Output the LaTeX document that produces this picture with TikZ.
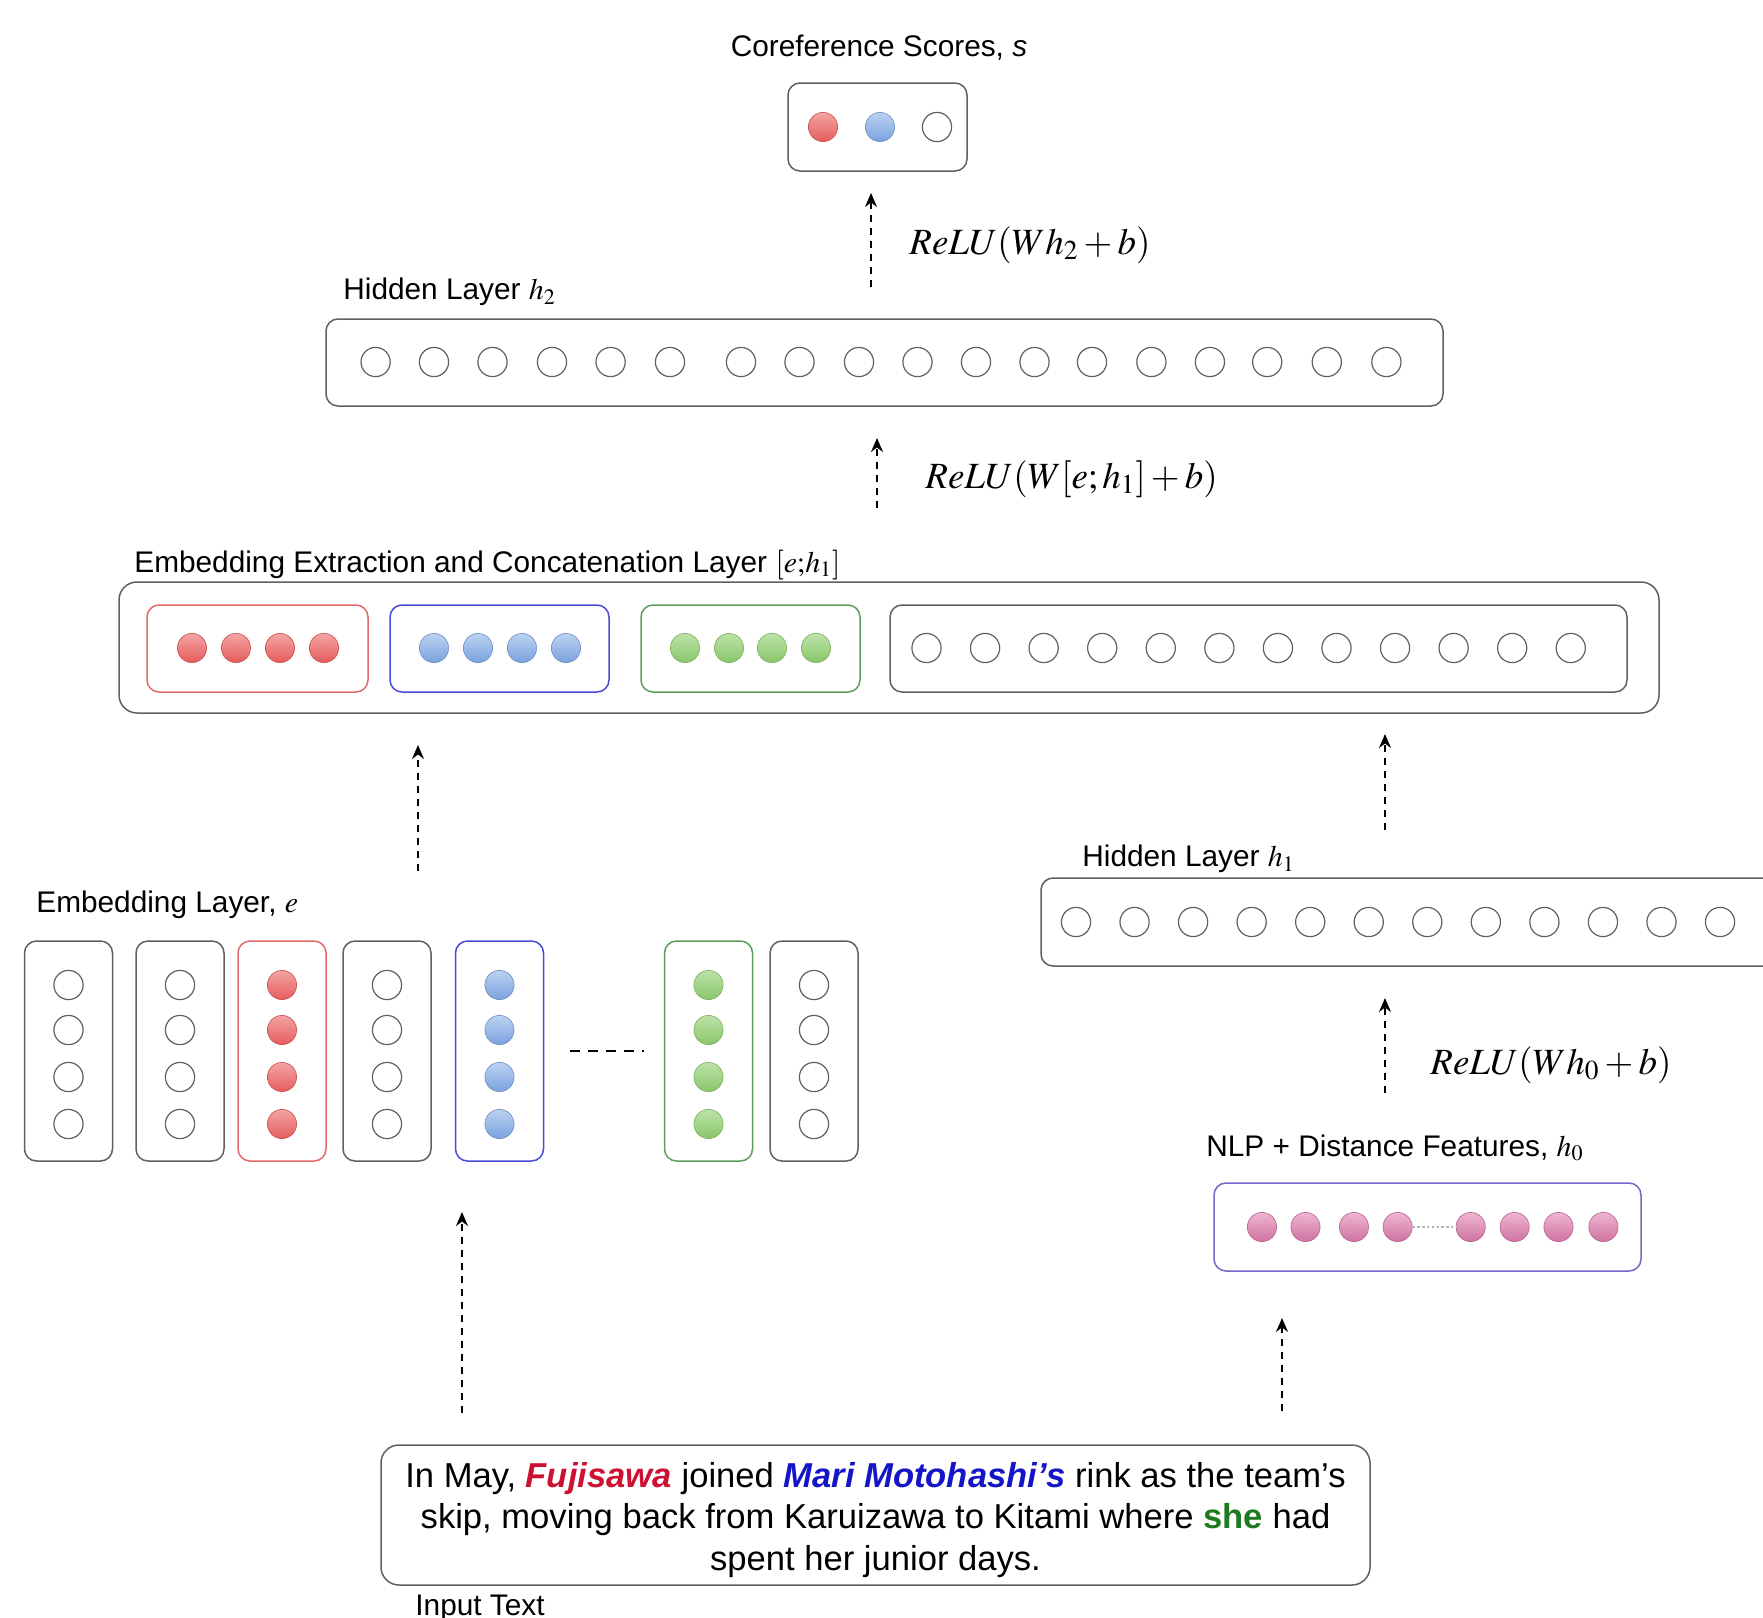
\documentclass[tikz,border=0pt]{standalone}
\usepackage{mathptmx}
\usepackage[no-math]{fontspec}
\setmainfont{Liberation Sans}
\usetikzlibrary{arrows.meta}
\definecolor{boxgray}{HTML}{606060}
\definecolor{unitgray}{HTML}{606060}
\definecolor{redtop}{HTML}{F4A4A4}
\definecolor{redbot}{HTML}{E65C5C}
\definecolor{reddraw}{HTML}{C85050}
\definecolor{bluetop}{HTML}{BCD2F2}
\definecolor{bluebot}{HTML}{7AA2DE}
\definecolor{bluedraw}{HTML}{6C8EBF}
\definecolor{greentop}{HTML}{BDE3A8}
\definecolor{greenbot}{HTML}{88C66A}
\definecolor{greendraw}{HTML}{7AAE5E}
\definecolor{pinktop}{HTML}{EEB6D0}
\definecolor{pinkbot}{HTML}{CF72A0}
\definecolor{pinkdraw}{HTML}{B86090}
\definecolor{redbox}{HTML}{E06A6A}
\definecolor{bluebox}{HTML}{4A4AD8}
\definecolor{greenbox}{HTML}{5A9E5A}
\definecolor{purplebox}{HTML}{7466C4}
\definecolor{txtred}{HTML}{CC1133}
\definecolor{txtblue}{HTML}{1515C8}
\definecolor{txtgreen}{HTML}{1F7A1F}
\tikzset{
  layerbox/.style={draw=boxgray, line width=0.75pt, rounded corners=6pt, inner sep=0pt},
  bigbox/.style={draw=boxgray, line width=0.75pt, rounded corners=9pt, inner sep=0pt},
  unit/.style={circle, draw=unitgray, line width=0.6pt, minimum size=14.6pt, inner sep=0pt},
  redunit/.style={circle, draw=reddraw, line width=0.3pt, minimum size=14.6pt, inner sep=0pt, top color=redtop, bottom color=redbot},
  blueunit/.style={circle, draw=bluedraw, line width=0.3pt, minimum size=14.6pt, inner sep=0pt, top color=bluetop, bottom color=bluebot},
  greenunit/.style={circle, draw=greendraw, line width=0.3pt, minimum size=14.6pt, inner sep=0pt, top color=greentop, bottom color=greenbot},
  pinkunit/.style={circle, draw=pinkdraw, line width=0.3pt, minimum size=14.6pt, inner sep=0pt, top color=pinktop, bottom color=pinkbot},
  flow/.style={-{Stealth[length=7pt,width=6pt]}, dash pattern=on 3.5pt off 3pt, line width=0.9pt},
  lbl/.style={font=\fontsize{14.9}{17}\selectfont, inner sep=0pt, anchor=west},
  fml/.style={font=\fontsize{18.5}{21}\selectfont, inner sep=0pt, anchor=west},
}
\begin{document}
\begin{tikzpicture}[x=0.5pt,y=-0.5pt]
\path[use as bounding box, clip] (0,0) rectangle (1763,1618);

% ---------- Coreference scores ----------
\node[lbl, anchor=center] (tscore) at (879,48) {Coreference Scores, \textit{s}};
\node[layerbox, minimum width=89.5pt, minimum height=44pt] (sbox) at (877.5,127) {};
\node[redunit] (s1) at (823,127) {};
\node[blueunit] (s2) at (880,127) {};
\node[unit] (s3) at (937,127) {};

\coordinate (a1s) at (871,287); \coordinate (a1e) at (871,193);
\draw[flow] (a1s) -- (a1e);
\node[fml] (f2) at (909,245) {$ReLU(Wh_2+b)$};

% ---------- Hidden layer h2 ----------
\node[lbl] (th2) at (343,292) {Hidden Layer $h_2$};
\node[layerbox, minimum width=558.5pt, minimum height=43.5pt] (h2box) at (884.5,362.5) {};
\foreach \x [count=\i] in {375.6,434,492.5,552,610.6,670,741,799.5,859,917.5,976,1034.5,1092,1151.4,1209.9,1267.2,1326.8,1386.4}
  \node[unit] (h2u\i) at (\x,362) {};

\coordinate (a2s) at (877,508); \coordinate (a2e) at (877,438);
\draw[flow] (a2s) -- (a2e);
\node[fml] (f1) at (925,479) {$ReLU(W[e;h_1]+b)$};

% ---------- Concatenation layer ----------
\node[lbl] (tcat) at (134,565) {Embedding Extraction and Concatenation Layer $[e{;}h_1]$};
\node[bigbox, minimum width=770pt, minimum height=65.5pt] (catbox) at (889,647.5) {};
\node[layerbox, draw=redbox, minimum width=110.5pt, minimum height=43.5pt] (credbox) at (257.5,648.5) {};
\node[layerbox, draw=bluebox, minimum width=109.5pt, minimum height=43.5pt] (cbluebox) at (499.5,648.5) {};
\node[layerbox, draw=greenbox, minimum width=109.5pt, minimum height=43.5pt] (cgreenbox) at (750.5,648.5) {};
\node[layerbox, minimum width=368.5pt, minimum height=43.5pt] (cwhitebox) at (1258.5,648.5) {};
\foreach \x [count=\i] in {192,236,280,324}
  \node[redunit] (cr\i) at (\x,648) {};
\foreach \x [count=\i] in {434,478,522,566}
  \node[blueunit] (cb\i) at (\x,648) {};
\foreach \x [count=\i] in {685,729,772,816}
  \node[greenunit] (cg\i) at (\x,648) {};
\foreach \i in {1,...,12}
  \node[unit] (cw\i) at ({926.5+58.57*(\i-1)},648) {};

\coordinate (aLs) at (418,871); \coordinate (aLe) at (418,745);
\draw[flow] (aLs) -- (aLe);
\coordinate (aRs) at (1385,830); \coordinate (aRe) at (1385,734);
\draw[flow] (aRs) -- (aRe);

% ---------- Embedding layer ----------
\node[lbl] (temb) at (36,905) {Embedding Layer, $e$};
\foreach \cx/\st/\bc [count=\c] in {68.5/unit/boxgray, 180/unit/boxgray, 282/redunit/redbox, 387/unit/boxgray, 499.5/blueunit/bluebox, 708.5/greenunit/greenbox, 814/unit/boxgray}{
  \node[layerbox, draw=\bc, minimum width=44pt, minimum height=110pt] (col\c) at (\cx,1051) {};
  \foreach \y [count=\r] in {985,1030,1077,1124}
    \node[\st] (e\c u\r) at (\cx,\y) {};
}
\coordinate (dd1) at (570,1051); \coordinate (dd2) at (644,1051);
\draw[line width=1pt, dash pattern=on 5pt off 4pt] (dd1) -- (dd2);

% ---------- Hidden layer h1 ----------
\node[lbl] (th1) at (1082,859) {Hidden Layer $h_1$};
\node[layerbox, minimum width=380pt, minimum height=44pt] (h1box) at (1421,922) {};
\foreach \i in {1,...,12}
  \node[unit] (h1u\i) at ({1076+58.55*(\i-1)},922) {};

\coordinate (a0s) at (1385,1093); \coordinate (a0e) at (1385,998);
\draw[flow] (a0s) -- (a0e);
\node[fml] (f0) at (1430,1065) {$ReLU(Wh_0+b)$};

% ---------- NLP features ----------
\node[lbl] (tnlp) at (1206,1148) {NLP + Distance Features, $h_0$};
\node[layerbox, draw=purplebox, minimum width=213.5pt, minimum height=44pt] (nlpbox) at (1427.5,1227) {};
\foreach \x [count=\i] in {1262,1305.5,1354,1397.6,1470.7,1514.6,1558.5,1603.4}
  \node[pinkunit] (p\i) at (\x,1227) {};
\draw[gray!60, line width=0.6pt, dash pattern=on 1.2pt off 1.2pt] (p4) -- (p5);

\coordinate (aNs) at (1282,1411); \coordinate (aNe) at (1282,1318);
\draw[flow] (aNs) -- (aNe);
\coordinate (aIs) at (462,1413); \coordinate (aIe) at (462,1212);
\draw[flow] (aIs) -- (aIe);

% ---------- Input text ----------
\node[layerbox, rounded corners=9pt, minimum width=494.5pt, minimum height=70pt] (inbox) at (875.5,1515) {};
\node[align=center, inner sep=0pt, font=\fontsize{17.3}{20.8}\selectfont] (intext) at (875.5,1520)
  {In May, \textcolor{txtred}{\textbf{\textit{Fujisawa}}} joined \textcolor{txtblue}{\textbf{\textit{Mari Motohashi’s}}} rink as the team’s\\
   skip, moving back from Karuizawa to Kitami where \textcolor{txtgreen}{\textbf{she}} had\\
   spent her junior days.};
\node[lbl] (tin) at (415,1608) {Input Text};
\end{tikzpicture}
\end{document}
